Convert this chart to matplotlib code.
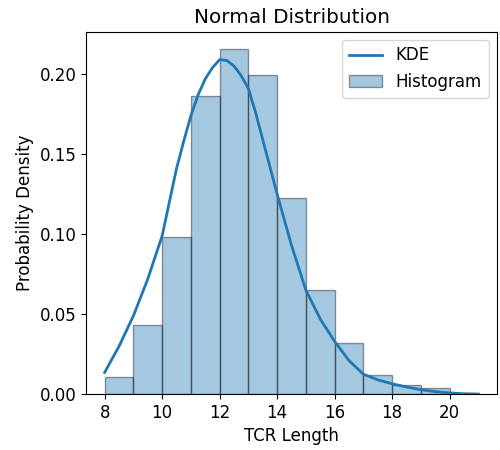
import matplotlib.pyplot as plt
import numpy as np

# histogram, unit bins from 8 to 20
bin_edges = [8, 9, 10, 11, 12, 13, 14, 15, 16, 17, 18, 19, 20]
hist_density = [0.0105, 0.0432, 0.0985, 0.1866, 0.2158, 0.1993,
                0.1225, 0.0651, 0.0317, 0.0119, 0.0058, 0.0040]

# KDE curve
kde_x = [8, 8.5, 9, 9.5, 10, 10.25, 10.5, 10.75, 11, 11.25, 11.5, 11.75,
         12, 12.25, 12.5, 12.75, 13, 13.25, 13.5, 13.75, 14, 14.5, 15,
         15.5, 16, 16.5, 17, 17.5, 18, 18.5, 19, 19.5, 20, 20.5, 21]
kde_y = [0.0136, 0.030, 0.049, 0.072, 0.099, 0.120, 0.141, 0.158, 0.174,
         0.187, 0.197, 0.204, 0.209, 0.2085, 0.205, 0.199, 0.191, 0.176,
         0.159, 0.142, 0.125, 0.093, 0.065, 0.047, 0.033, 0.021, 0.0125,
         0.009, 0.0065, 0.0045, 0.0028, 0.0016, 0.0008, 0.0003, 0.0001]

fig = plt.figure(figsize=(5, 4.5), dpi=100)
ax = fig.add_axes([0.172, 0.124, 0.822, 0.806])

lefts = np.array(bin_edges[:-1])
widths = np.diff(bin_edges)
ax.bar(lefts, hist_density, width=widths, align='edge', color='#1f77b4',
       edgecolor='black', linewidth=1, alpha=0.4, label='Histogram')
ax.plot(kde_x, kde_y, color='#1f77b4', lw=2, label='KDE')

ax.set_xlim(7.35, 21.65)
ax.set_ylim(0, 0.2266)
ax.set_xticks([8, 10, 12, 14, 16, 18, 20])
ax.set_yticks([0.0, 0.05, 0.10, 0.15, 0.20])
ax.tick_params(labelsize=12)

ax.set_title('Normal Distribution', fontsize=14.4)
ax.set_xlabel('TCR Length', fontsize=12)
ax.set_ylabel('Probability Density', fontsize=12)
ax.legend(loc='upper right', fontsize=12)

fig.savefig('out.png', dpi=100)
